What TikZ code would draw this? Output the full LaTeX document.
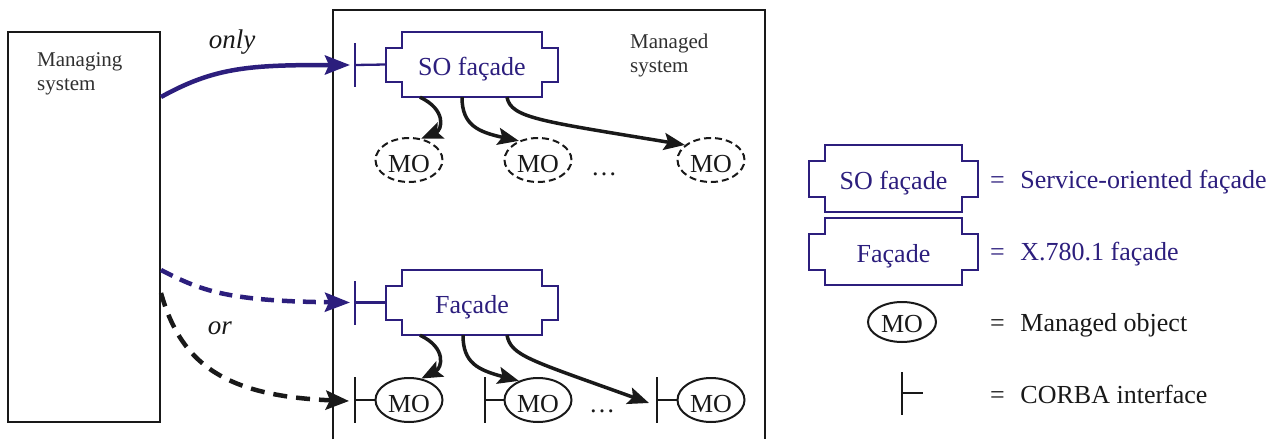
\documentclass[tikz,border=0pt]{standalone}
\usepackage{fontspec}
\setmainfont{Liberation Serif}
\usetikzlibrary{arrows.meta,shapes.geometric,calc}
\definecolor{navy}{RGB}{44,30,125}
\definecolor{ink}{RGB}{25,25,25}
\newcommand\facoutline[1]{\draw[navy,line width=2pt] (#1.north west) -- (#1.north east) -- ([yshift=-16pt]#1.north east) -- ([xshift=16pt,yshift=-16pt]#1.north east) -- ([xshift=16pt,yshift=15pt]#1.south east) -- ([yshift=15pt]#1.south east) -- (#1.south east) -- (#1.south west) -- ([yshift=15pt]#1.south west) -- ([xshift=-16pt,yshift=15pt]#1.south west) -- ([xshift=-16pt,yshift=-16pt]#1.north west) -- ([yshift=-16pt]#1.north west) -- cycle;}
\begin{document}
\begin{tikzpicture}[x=1pt,y=-1pt,
  big/.style={font=\fontsize{26}{30}\selectfont},
  small/.style={font=\fontsize{21}{24}\selectfont,text=ink!90},
  facbox/.style={big,minimum width=140pt,minimum height=65pt,inner sep=0pt,text height=25pt,text depth=4pt,text=navy},
  legfac/.style={facbox,minimum width=137pt,minimum height=67pt},
  mo/.style={ellipse,draw=ink,line width=2pt,big,minimum width=67pt,minimum height=44pt,inner sep=0pt,text height=24pt,text depth=0pt,text=ink},
  dmo/.style={mo,dash pattern=on 7pt off 4pt},
  corba/.style={line width=2.3pt},
  farrow/.style={draw=ink,line width=3.5pt,-{Stealth[length=21pt,width=17pt,inset=4pt]}},
  barrow/.style={draw=navy,line width=4.5pt,-{Stealth[length=25pt,width=19pt,inset=4pt]}},
  lab/.style={font=\fontsize{27}{30}\selectfont\itshape,text=ink},
  legtext/.style={big,anchor=base west,inner sep=0pt},
]
\useasboundingbox (0,0) rectangle (1282,439);

% managing system
\node[draw=ink,line width=2pt,minimum width=152pt,minimum height=390pt,inner sep=0pt] (msys) at (84,227) {};
\node[small,align=left,anchor=north west,inner sep=0pt] (msyst) at (37,52) {Managing\\system};

% managed system
\draw[ink,line width=2.2pt] (333,439) -- (333,10) -- (765,10) -- (765,439);
\node[small,align=left,anchor=north west,inner sep=0pt] (mdt) at (630,34) {Managed\\system};

% SO facade
\node[facbox] (so) at (472,64.5) {SO façade};
\facoutline{so}
\coordinate (cso) at (355,65);
\draw[navy,corba] (355,43) -- (355,87);
\draw[navy,corba] (cso) -- ([xshift=-16pt]so.west);

% X.780.1 facade
\node[facbox] (fa) at (472,302.5) {Façade};
\facoutline{fa}
\coordinate (cfa) at (355,302.5);
\draw[navy,corba] (355,281) -- (355,325);
\draw[navy,corba] (cfa) -- ([xshift=-16pt]fa.west);

% dashed MOs
\node[dmo] (mo1) at (409,160) {MO};
\node[dmo] (mo2) at (538,160) {MO};
\node[dmo] (mo3) at (711,160) {MO};
\node[big,text=ink,inner sep=0pt,anchor=base] (dots1) at (604,175) {\dots};

% solid MOs with CORBA interfaces
\node[mo] (mo4) at (409,400) {MO};
\node[mo] (mo5) at (538,400) {MO};
\node[mo] (mo6) at (711,400) {MO};
\node[big,text=ink,inner sep=0pt,anchor=base] (dots2) at (602,412) {\dots};
\coordinate (c4) at (355,400);
\coordinate (c5) at (485,400);
\coordinate (c6) at (657,400);
\draw[ink,corba] (355,377) -- (355,423) (c4) -- (mo4.west);
\draw[ink,corba] (485,377) -- (485,423) (c5) -- (mo5.west);
\draw[ink,corba] (657,377) -- (657,423) (c6) -- (mo6.west);

% facade -> MO arrows (upper)
\draw[farrow] ([xshift=-52pt]so.south) .. controls (447,110) and (442,130) .. (mo1.60);
\draw[farrow] ([xshift=-10pt]so.south) .. controls (462,125) and (478,132) .. (mo2.135);
\draw[farrow] ([xshift=35pt]so.south) .. controls (511,118) and (540,121) .. (mo3.150);

% facade -> MO arrows (lower)
\draw[farrow] ([xshift=-52pt]fa.south) .. controls (447,348) and (442,368) .. (mo4.60);
\draw[farrow] ([xshift=-9pt]fa.south) .. controls (463,363) and (478,370) .. (mo5.135);
\draw[farrow] ([xshift=35pt]fa.south) .. controls (511,356) and (530,360) .. ([xshift=-8pt,yshift=-3pt]c6);

% managing -> managed arrows
\draw[barrow] ([yshift=130pt]msys.east) .. controls (215,67) and (250,65) .. ([xshift=-5pt]cso);
\draw[barrow,dash pattern=on 13pt off 8pt] ([yshift=-43pt]msys.east) .. controls (200,290) and (225,301) .. ([xshift=-5pt]cfa);
\draw[farrow,line width=4.5pt,dash pattern=on 14pt off 9pt,-{Stealth[length=23pt,width=19pt,inset=4pt]}] ([yshift=-66pt]msys.east) .. controls (180,360) and (220,396) .. ([xshift=-6pt,yshift=-1pt]c4);
\node[lab] (only) at (232,42) {only};
\node[lab] (or) at (220,328) {or};

% legend
\node[legfac] (lso) at (893.5,178.5) {SO façade};
\facoutline{lso}
\node[legtext,text=navy] (lsot) at (990,188) {=\hspace{0.6em}Service-oriented façade};
\node[legfac] (lfa) at (893.5,251.5) {Façade};
\facoutline{lfa}
\node[legtext,text=navy] (lfat) at (990,260) {=\hspace{0.6em}X.780.1 façade};
\node[mo,minimum width=68pt,minimum height=40pt,text height=20pt] (lmo) at (902,322) {MO};
\node[legtext,text=ink] (lmot) at (990,331) {=\hspace{0.6em}Managed object};
\coordinate (lc) at (902,393);
\draw[ink,corba] (902,372) -- (902,415) (lc) -- (923,393);
\node[legtext,text=ink] (lct) at (990,403) {=\hspace{0.6em}CORBA interface};
\end{tikzpicture}
\end{document}
